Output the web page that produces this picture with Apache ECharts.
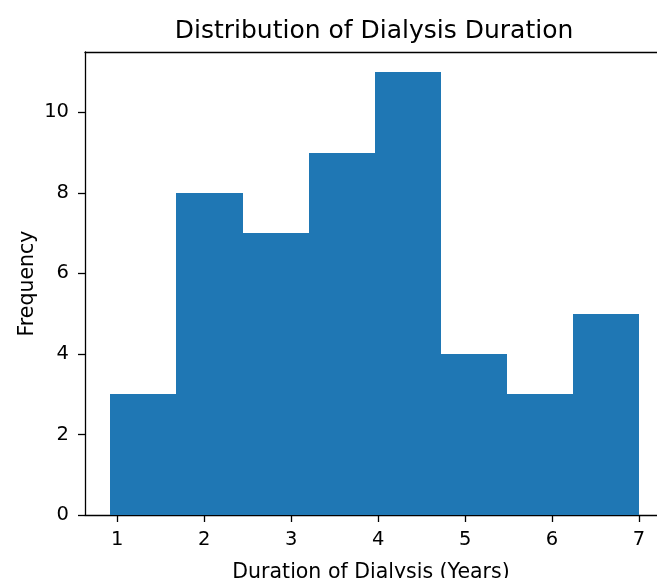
<!DOCTYPE html>
<html>
<head>
<meta charset="utf-8">
<script src="https://cdn.jsdelivr.net/npm/echarts@6/dist/echarts.min.js"></script>
<style>html,body{margin:0;padding:0;background:#fff}#c{width:657px;height:578px}</style>
</head>
<body>
<div id="c"></div>
<script>
var binEdges = [0.92, 1.68, 2.44, 3.20, 3.96, 4.72, 5.48, 6.24, 7.00];
var counts = [3, 8, 7, 9, 11, 4, 3, 5];
var xTicks = [1, 2, 3, 4, 5, 6, 7];
var yTicks = [0, 2, 4, 6, 8, 10];
var titleText = 'Distribution of Dialysis Duration';
var xName = 'Duration of Dialysis (Years)';
var yName = 'Frequency';

var data = counts.map(function (c, i) { return [binEdges[i], binEdges[i + 1], c]; });
var font = 'DejaVu Sans';
var chart = echarts.init(document.getElementById('c'), null, { renderer: 'canvas' });
chart.setOption({
  animation: false,
  backgroundColor: '#ffffff',
  title: {
    text: titleText, left: 369, top: 14, textAlign: 'center',
    textStyle: { fontFamily: font, fontSize: 25, fontWeight: 'normal', color: '#000' }
  },
  grid: { left: 85, right: 0, top: 52, bottom: 63, show: false, containLabel: false, outerBoundsMode: 'none' },
  xAxis: [{
    type: 'value', min: 0.6285, max: 7.207,
    name: xName, nameLocation: 'middle', nameGap: 47, nameMoveOverlap: false,
    nameTextStyle: { fontFamily: font, fontSize: 20.5, color: '#000' },
    axisLine: { show: true, onZero: false, lineStyle: { color: '#000', width: 1.3 } },
    axisTick: { show: true, length: 7, lineStyle: { color: '#000', width: 1.3 }, customValues: xTicks },
    axisLabel: { fontFamily: font, fontSize: 19.5, color: '#000', margin: 15, customValues: xTicks },
    splitLine: { show: false }
  }, {
    type: 'value', position: 'top', min: 0.6285, max: 7.207,
    axisLine: { show: true, onZero: false, lineStyle: { color: '#000', width: 1.3 } },
    axisTick: { show: false }, axisLabel: { show: false }, splitLine: { show: false }
  }],
  yAxis: {
    type: 'value', min: 0, max: 11.5,
    name: yName, nameLocation: 'middle', nameGap: 47, nameRotate: 90, nameMoveOverlap: false,
    nameTextStyle: { fontFamily: font, fontSize: 20.5, color: '#000' },
    axisLine: { show: true, lineStyle: { color: '#000', width: 1.3 } },
    axisTick: { show: true, length: 7, lineStyle: { color: '#000', width: 1.3 }, customValues: yTicks },
    axisLabel: { fontFamily: font, fontSize: 19.5, color: '#000', margin: 16, customValues: yTicks },
    splitLine: { show: false }
  },
  series: [{
    type: 'custom',
    data: data,
    encode: { x: [0, 1], y: 2 },
    renderItem: function (params, api) {
      var p0 = api.coord([api.value(0), 0]);
      var p1 = api.coord([api.value(1), api.value(2)]);
      var x0 = Math.round(p0[0]), x1 = Math.round(p1[0]);
      var y0 = Math.round(p0[1]), y1 = Math.round(p1[1]);
      return {
        type: 'rect',
        shape: { x: x0, y: y1, width: x1 - x0, height: y0 - y1 },
        style: { fill: '#1f77b4' }
      };
    }
  }]
});
</script>
</body>
</html>
